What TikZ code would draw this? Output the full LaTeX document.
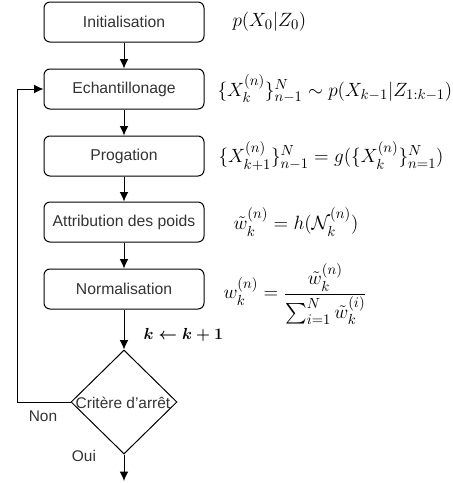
\documentclass[tikz,border=0pt]{standalone}
\usepackage{amsmath,amssymb}
\usepackage[no-math]{fontspec}
\setmainfont{Liberation Sans}
\usepackage{tikz}
\usetikzlibrary{arrows,arrows.meta,shapes,positioning,calc}

\begin{document}
\begin{tikzpicture}[x=0.75pt,y=-0.75pt]

        \tikzstyle{every path}=[line width=0.75pt]
        \tikzstyle{etape}=[draw,rounded corners=4.5pt,minimum width=120pt,minimum height=30pt,text=black!80,font=\fontsize{11.8}{14}\selectfont]
        \tikzstyle{formule}=[anchor=west,inner sep=0pt,font=\fontsize{15.4}{18}\selectfont]
        \tikzstyle{test}=[draw,diamond,shape aspect=1,inner sep=0pt,minimum width=79.5pt,minimum height=78pt]
        \tikzstyle{petit}=[text=black!80,font=\fontsize{11.6}{14}\selectfont,inner sep=0pt]
        \tikzstyle{fleche}=[-{Latex[length=7pt,width=6.5pt]}]
        \useasboundingbox (0,0) rectangle (453,483);

        \node[etape] (init) at (124,22) {Initialisation};
        \node[etape] (ech) at (124,89) {Echantillonage};
        \node[etape] (prop) at (124,156) {Progation};
        \node[etape] (poids) at (124,222) {Attribution des poids};
        \node[etape] (norm) at (124,289) {Normalisation};
        \node[test] (crit) at (124,402) {};
        \node[petit] (critlbl) at (123,403) {Critère d'arrêt};

        \node[formule] (f0) at (232,22) {$p(X_0|Z_0)$};
        \node[formule] (f1) at (217,89) {$\{X_k^{(n)}\}_{n-1}^N \sim p(X_{k-1}|Z_{1:k-1})$};
        \node[formule] (f2) at (218,156) {$\{X_{k+1}^{(n)}\}_{n-1}^N = g(\{X_k^{(n)}\}_{n=1}^N)$};
        \node[formule] (f3) at (233,222) {$\tilde{w}_k^{(n)} = h(\mathcal{N}_k^{(n)})$};
        \node[formule] (f4) at (223,294) {$w_k^{(n)} = \dfrac{\tilde{w}_k^{(n)}}{\sum_{i=1}^N \tilde{w}_k^{(i)}}$};
        \node[formule,font=\fontsize{12.2}{14}\selectfont] (incr) at (143,335) {$\boldsymbol{k \leftarrow k+1}$};

        \node[petit] (non) at (43,416) {Non};
        \node[petit] (oui) at (84,456) {Oui};
        \coordinate (retour) at (17,402);
        \coordinate (fin) at (124,481);

        \draw[fleche] (init) -- (ech);
        \draw[fleche] (ech) -- (prop);
        \draw[fleche] (prop) -- (poids);
        \draw[fleche] (poids) -- (norm);
        \draw[fleche] (norm) -- (crit);
        \draw[fleche] (crit.west) -- (retour) |- (ech.west);
        \draw[fleche] (crit.south) -- (fin);
\end{tikzpicture}
\end{document}
